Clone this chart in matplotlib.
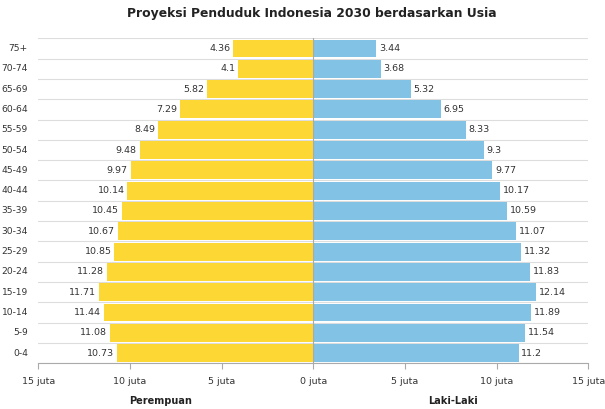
import matplotlib
matplotlib.use("Agg")
import matplotlib.pyplot as plt
import numpy as np

age_groups = ["0-4", "5-9", "10-14", "15-19", "20-24", "25-29", "30-34", "35-39",
              "40-44", "45-49", "50-54", "55-59", "60-64", "65-69", "70-74", "75+"]
perempuan = [10.73, 11.08, 11.44, 11.71, 11.28, 10.85, 10.67, 10.45,
             10.14, 9.97, 9.48, 8.49, 7.29, 5.82, 4.1, 4.36]
laki_laki = [11.2, 11.54, 11.89, 12.14, 11.83, 11.32, 11.07, 10.59,
             10.17, 9.77, 9.3, 8.33, 6.95, 5.32, 3.68, 3.44]
x_ticks = [-15, -10, -5, 0, 5, 10, 15]
x_tick_labels = ["15 juta", "10 juta", "5 juta", "0 juta", "5 juta", "10 juta", "15 juta"]

plt.rcParams['font.family'] = ['DejaVu Sans']
W, H = 605, 409
fig = plt.figure(figsize=(W / 100, H / 100), dpi=100)
ax = fig.add_axes([38.3 / W, 1 - 363.3 / H, 550 / W, (363.3 - 38.3) / H])

y = np.arange(len(age_groups))
yellow = "#FDD835"
blue = "#82C2E4"
ax.barh(y, [-v for v in perempuan], height=0.88, color=yellow, zorder=2)
ax.barh(y, laki_laki, height=0.88, color=blue, zorder=2)

for yi, v in zip(y, perempuan):
    ax.text(-v - 0.15, yi, f"{v:g}", ha="right", va="center", fontsize=6.8, color="#333333")
for yi, v in zip(y, laki_laki):
    ax.text(v + 0.15, yi, f"{v:g}", ha="left", va="center", fontsize=6.8, color="#333333")

ax.set_xlim(-15, 15)
ax.set_ylim(-0.5, len(age_groups) - 0.5)
ax.set_xticks(x_ticks)
ax.set_xticklabels(x_tick_labels, fontsize=6.8, color="#333333")
ax.set_yticks([])
ax.set_yticks(np.arange(-0.5, len(age_groups), 1), minor=True)
ax.tick_params(axis="y", which="minor", length=0)
ax.grid(axis="y", which="minor", color="#dddddd", linewidth=0.8, zorder=0)
ax.tick_params(axis="x", length=4, color="#aaaaaa", pad=6)
for s in ["top", "right", "left"]:
    ax.spines[s].set_visible(False)
ax.spines["bottom"].set_color("#aaaaaa")
ax.axvline(0, color="#aaaaaa", linewidth=0.8, zorder=3)

lab_x = (28 - 38.3) / 550
for yi, lab in zip(y, age_groups):
    ax.text(lab_x, yi, lab, transform=ax.get_yaxis_transform(), ha="right",
            va="center", fontsize=6.6, color="#333333")

fig.text(161 / W, 1 - 401 / H, "Perempuan", ha="center", va="center",
         fontsize=7, fontweight="bold", color="#222222")
fig.text(453 / W, 1 - 401 / H, "Laki-Laki", ha="center", va="center",
         fontsize=7, fontweight="bold", color="#222222")
fig.text(312 / W, 1 - 14 / H, "Proyeksi Penduduk Indonesia 2030 berdasarkan Usia",
         ha="center", va="center", fontsize=8.9, fontweight="bold", color="#222222")

fig.savefig("out.png", dpi=100, facecolor="white")
